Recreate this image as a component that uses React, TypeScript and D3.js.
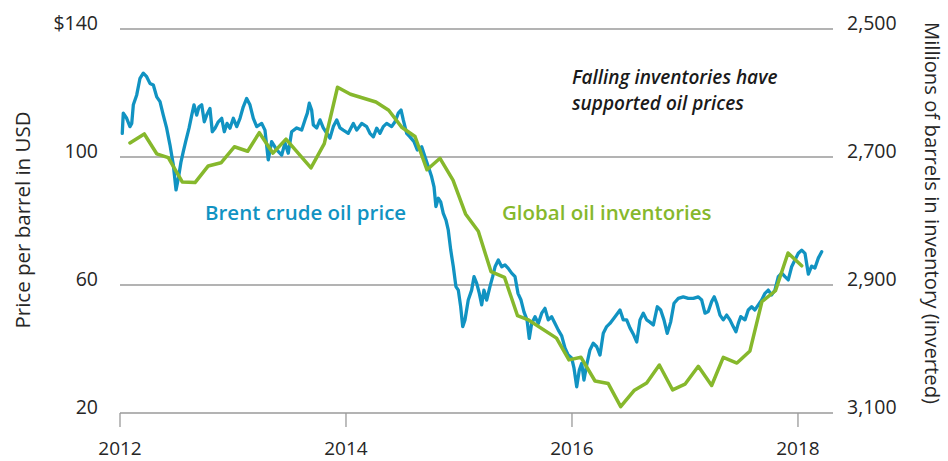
import * as d3 from 'd3';
import React from 'react';

// Brent crude, $ per barrel (~every 10 days)
const brentYears = [
  2012.020, 2012.029, 2012.059, 2012.088, 2012.104, 2012.118, 2012.148, 2012.177, 2012.206, 2012.236,
  2012.265, 2012.295, 2012.325, 2012.354, 2012.383, 2012.413, 2012.442, 2012.472, 2012.496, 2012.516,
  2012.540, 2012.560, 2012.581, 2012.611, 2012.635, 2012.655, 2012.679, 2012.699, 2012.723, 2012.746,
  2012.767, 2012.796, 2012.817, 2012.841, 2012.870, 2012.900, 2012.923, 2012.947, 2012.973, 2013.003,
  2013.033, 2013.062, 2013.091, 2013.121, 2013.150, 2013.180, 2013.210, 2013.254, 2013.283, 2013.312,
  2013.342, 2013.387, 2013.431, 2013.460, 2013.489, 2013.519, 2013.564, 2013.608, 2013.637, 2013.658,
  2013.675, 2013.696, 2013.711, 2013.741, 2013.770, 2013.799, 2013.829, 2013.858, 2013.888, 2013.918,
  2013.947, 2013.976, 2014.020, 2014.065, 2014.095, 2014.139, 2014.183, 2014.212, 2014.242, 2014.272,
  2014.301, 2014.330, 2014.360, 2014.404, 2014.434, 2014.463, 2014.487, 2014.507, 2014.537, 2014.566,
  2014.602, 2014.631, 2014.670, 2014.699, 2014.728, 2014.758, 2014.779, 2014.796, 2014.817, 2014.838,
  2014.861, 2014.885, 2014.905, 2014.927, 2014.950, 2014.973, 2014.994, 2015.015, 2015.033, 2015.053,
  2015.082, 2015.112, 2015.133, 2015.157, 2015.180, 2015.201, 2015.221, 2015.245, 2015.274, 2015.298,
  2015.319, 2015.348, 2015.378, 2015.407, 2015.436, 2015.466, 2015.496, 2015.522, 2015.549, 2015.575,
  2015.602, 2015.622, 2015.643, 2015.673, 2015.702, 2015.732, 2015.761, 2015.790, 2015.820, 2015.850,
  2015.879, 2015.909, 2015.938, 2015.967, 2015.997, 2016.018, 2016.042, 2016.065, 2016.086, 2016.106,
  2016.130, 2016.159, 2016.188, 2016.219, 2016.248, 2016.277, 2016.307, 2016.336, 2016.381, 2016.425,
  2016.454, 2016.484, 2016.513, 2016.542, 2016.573, 2016.602, 2016.631, 2016.661, 2016.690, 2016.720,
  2016.755, 2016.785, 2016.814, 2016.843, 2016.873, 2016.903, 2016.941, 2016.985, 2017.029, 2017.074,
  2017.118, 2017.148, 2017.177, 2017.206, 2017.236, 2017.259, 2017.281, 2017.310, 2017.339, 2017.369,
  2017.398, 2017.427, 2017.451, 2017.472, 2017.493, 2017.531, 2017.560, 2017.590, 2017.619, 2017.649,
  2017.679, 2017.708, 2017.737, 2017.767, 2017.796, 2017.826, 2017.856, 2017.885, 2017.914, 2017.944,
  2017.973, 2018.003, 2018.033, 2018.062, 2018.092, 2018.121, 2018.150, 2018.180, 2018.210,
];
const brentPrices = [
  107.4, 113.7, 112.1, 109.5, 110.5, 116.3, 119.4, 124.6, 126.2, 125.1,
  123.0, 122.5, 118.8, 117.3, 113.1, 109.0, 103.8, 97.5, 89.7, 93.3,
  98.5, 101.7, 104.8, 109.0, 113.1, 116.3, 113.1, 115.7, 116.3, 111.0,
  113.1, 115.2, 107.9, 109.0, 111.0, 112.1, 107.9, 110.5, 109.0, 112.1,
  109.5, 112.1, 115.7, 118.3, 116.3, 112.1, 109.5, 110.5, 108.4, 99.1,
  104.8, 102.2, 100.6, 104.4, 101.2, 107.9, 109.1, 108.4, 111.6, 113.7,
  116.8, 114.7, 110.0, 109.1, 111.6, 109.1, 107.5, 105.9, 109.5, 111.6,
  109.1, 108.4, 107.4, 110.5, 108.4, 110.5, 109.5, 107.4, 106.3, 109.0,
  107.4, 109.5, 110.5, 109.5, 111.0, 113.7, 114.7, 111.6, 107.4, 106.3,
  104.8, 102.2, 103.2, 100.1, 97.0, 93.8, 90.7, 84.5, 87.1, 86.0,
  82.4, 80.3, 77.2, 70.9, 65.7, 59.5, 58.4, 53.2, 47.0, 49.1,
  55.3, 58.4, 62.6, 60.5, 57.4, 53.8, 58.4, 55.3, 59.5, 62.6,
  65.7, 67.8, 65.7, 66.3, 65.2, 63.7, 62.6, 57.4, 55.3, 51.6,
  49.1, 43.3, 48.0, 50.1, 48.0, 51.2, 52.7, 49.1, 50.1, 48.0,
  45.9, 44.1, 40.3, 38.1, 37.2, 34.0, 28.2, 33.4, 35.5, 30.3,
  35.0, 39.7, 41.8, 40.7, 38.1, 44.9, 47.0, 48.0, 50.1, 52.2,
  49.1, 49.1, 46.6, 44.7, 42.2, 49.1, 51.2, 49.1, 48.4, 47.5,
  53.2, 52.2, 49.1, 44.9, 48.4, 54.3, 55.8, 56.3, 55.8, 55.8,
  56.3, 55.3, 51.2, 51.7, 54.8, 56.3, 54.3, 50.6, 49.1, 50.6,
  49.1, 47.0, 45.4, 48.0, 50.1, 49.1, 52.2, 53.2, 52.2, 53.8,
  55.3, 57.4, 58.4, 56.9, 58.4, 62.6, 63.7, 62.6, 61.6, 65.7,
  67.8, 69.9, 70.9, 69.9, 63.4, 65.9, 65.3, 68.4, 70.4,
];

// Global oil inventories, millions of barrels
const inventoryYears = [
  2012.088, 2012.215, 2012.325, 2012.427, 2012.551, 2012.664, 2012.781, 2012.894, 2013.012, 2013.130,
  2013.233, 2013.354, 2013.469, 2013.690, 2013.808, 2013.925, 2014.040, 2014.265, 2014.378, 2014.496,
  2014.611, 2014.717, 2014.832, 2014.947, 2015.058, 2015.171, 2015.283, 2015.403, 2015.518, 2015.619,
  2015.863, 2015.973, 2016.080, 2016.204, 2016.321, 2016.431, 2016.549, 2016.661, 2016.773, 2016.891,
  2017.000, 2017.118, 2017.236, 2017.339, 2017.460, 2017.575, 2017.681, 2017.801, 2017.912, 2018.033,
];
const inventoryLevels = [
  2678, 2664, 2695, 2701, 2739, 2740, 2714, 2709, 2684, 2691,
  2662, 2694, 2672, 2717, 2679, 2591, 2602, 2614, 2627, 2654,
  2668, 2720, 2702, 2736, 2789, 2816, 2879, 2888, 2948, 2955,
  2983, 3017, 3013, 3050, 3054, 3090, 3065, 3053, 3025, 3064,
  3055, 3027, 3057, 3013, 3022, 3003, 2926, 2909, 2850, 2870,
];

const yearTicks = [2012, 2014, 2016, 2018];
const priceTicks = [20, 60, 100, 140];
const inventoryTicks = [2500, 2700, 2900, 3100];

const width = 948;
const height = 461;
const margin = { top: 29, right: 115, bottom: 48, left: 120 };

const blue = '#1193c2';
const green = '#86b82c';
const grid = '#9a9a9a';
const ink = '#262626';
const font = '"Open Sans", Lato, sans-serif';

export default function App() {
  const x = d3.scaleLinear()
    .domain([2012, 2018.31])
    .range([margin.left, width - margin.right]);

  const yPrice = d3.scaleLinear()
    .domain([20, 140])
    .range([height - margin.bottom, margin.top]);

  // inverted: fewer barrels on top
  const yInv = d3.scaleLinear()
    .domain([2500, 3100])
    .range([margin.top, height - margin.bottom]);

  const brentLine = d3.line<number>()
    .x((d, i) => x(brentYears[i]))
    .y((d) => yPrice(d));

  const invLine = d3.line<number>()
    .x((d, i) => x(inventoryYears[i]))
    .y((d) => yInv(d));

  const x0 = margin.left;
  const x1 = width - margin.right;
  const yBase = height - margin.bottom;

  return (
    <svg width={width} height={height}
      style={{ position: 'absolute', left: 0, top: 0, background: '#fff' }}
      fontFamily={font}>
      {priceTicks.map((t) => (
        <line key={'g' + t} x1={x0} x2={x1} y1={yPrice(t)} y2={yPrice(t)}
          stroke={grid} strokeWidth={1.3} />
      ))}
      {yearTicks.map((t) => (
        <line key={'t' + t} x1={x(t)} x2={x(t)} y1={yBase} y2={yBase + 14}
          stroke={grid} strokeWidth={1.3} />
      ))}
      {yearTicks.map((t) => (
        <text key={'xl' + t} x={x(t)} y={yBase + 42} textAnchor="middle"
          fontSize={19} fill={ink}>{t}</text>
      ))}
      {priceTicks.map((t) => (
        <text key={'pl' + t} x={98} y={yPrice(t) + 1} textAnchor="end"
          fontSize={19.5} fill={ink}>{t === 140 ? '$' + t : t}</text>
      ))}
      {inventoryTicks.map((t) => (
        <text key={'il' + t} x={847} y={yInv(t) + 1} textAnchor="start"
          fontSize={19.5} fill={ink}>{d3.format(',')(t)}</text>
      ))}

      <text transform={`translate(30,220) rotate(-90)`} textAnchor="middle"
        fontSize={20.5} fill={ink}>Price per barrel in USD</text>
      <text transform={`translate(925,213) rotate(90)`} textAnchor="middle"
        fontSize={20.3} fill={ink}>Millions of barrels in inventory (inverted)</text>

      <path d={brentLine(brentPrices) || ''} fill="none" stroke={blue}
        strokeWidth={3.3} strokeLinejoin="round" strokeLinecap="round" />
      <path d={invLine(inventoryLevels) || ''} fill="none" stroke={green}
        strokeWidth={3.5} strokeLinejoin="round" strokeLinecap="round" />

      <text x={205} y={220} fontSize={20.5} fontWeight={600} fill={blue}>Brent crude oil price</text>
      <text x={502} y={220} fontSize={20.5} fontWeight={600} fill={green}>Global oil inventories</text>

      <text x={572} y={84} fontSize={19} fontWeight={600} fontStyle="italic" fill="#1a1a1a">
        Falling inventories have
      </text>
      <text x={572} y={110} fontSize={19} fontWeight={600} fontStyle="italic" fill="#1a1a1a">
        supported oil prices
      </text>
    </svg>
  );
}
